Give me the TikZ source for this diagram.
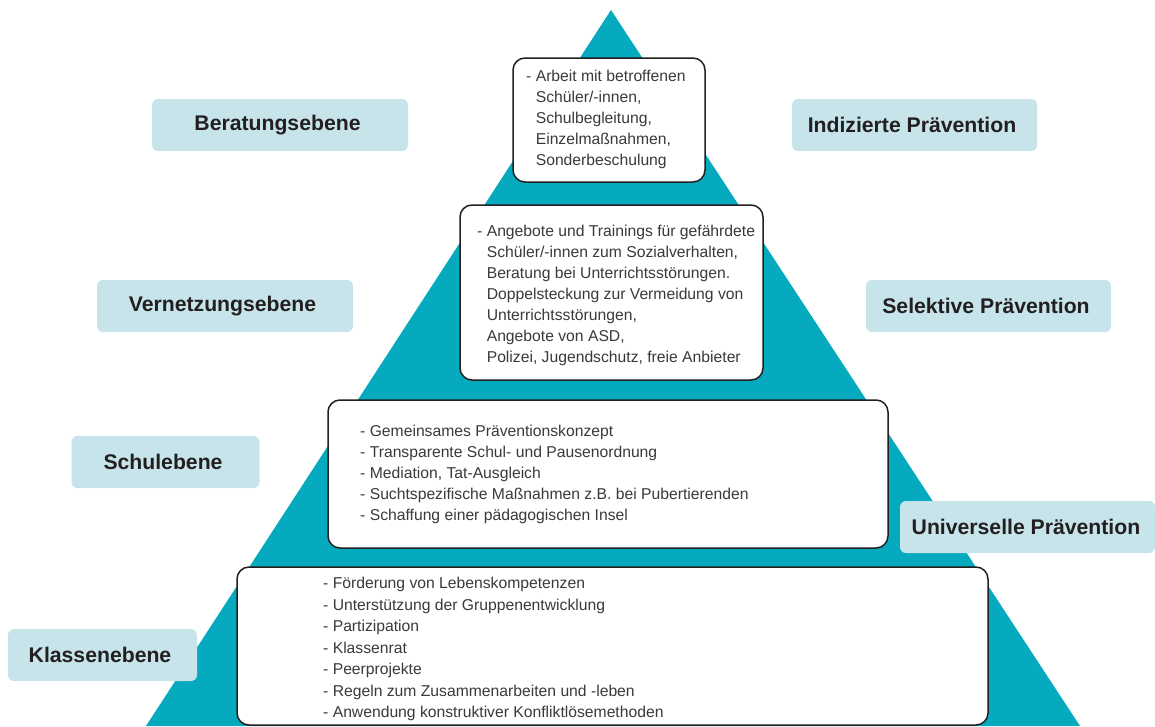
\documentclass[tikz,border=0pt]{standalone}
\usepackage{fontspec}
\setmainfont{Liberation Sans}
\definecolor{pyr}{HTML}{05AABE}
\definecolor{lab}{HTML}{C7E4EB}
\definecolor{ink}{HTML}{231F20}
\definecolor{txt}{HTML}{3A3A3A}
\tikzset{
  label box/.style={fill=lab, rounded corners=6pt, inner sep=0pt, font=\fontsize{21.2}{24}\selectfont\bfseries, text=ink},
  white box/.style={draw=ink, line width=1.5pt, fill=white, rounded corners=12pt, inner sep=0pt},
  box text/.style={anchor=west, inner sep=0pt, align=left, text=txt, font=\fontsize{15.7}{21}\selectfont},
}
\newcommand{\ind}{\phantom{- }}
\begin{document}
\begin{tikzpicture}[x=1pt,y=-1pt]
\useasboundingbox (0,0) rectangle (1155,726);
\fill[pyr] (146,726) -- (611,10) -- (1080,726) -- cycle;

% white boxes
\node[white box, minimum width=192pt, minimum height=124pt] (b1) at (609,120) {};
\node[white box, minimum width=303pt, minimum height=175pt] (b2) at (611.5,292.5) {};
\node[white box, minimum width=560pt, minimum height=148pt] (b3) at (608,474) {};
\node[white box, minimum width=751pt, minimum height=158pt] (b4) at (612.5,646) {};

% box texts
\node[box text] (t1) at (526,119.5) {- Arbeit mit betroffenen\\ \ind Schüler/-innen,\\ \ind Schulbegleitung,\\ \ind Einzelmaßnahmen,\\ \ind Sonderbeschulung};
\node[box text] (t2) at (477,295) {- Angebote und Trainings für gefährdete\\ \ind Schüler/-innen zum Sozialverhalten,\\ \ind Beratung bei Unterrichtsstörungen.\\ \ind Doppelsteckung zur Vermeidung von\\ \ind Unterrichtsstörungen,\\ \ind Angebote von ASD,\\ \ind Polizei, Jugendschutz, freie Anbieter};
\node[box text] (t3) at (360,474) {- Gemeinsames Präventionskonzept\\ - Transparente Schul- und Pausenordnung\\ - Mediation, Tat-Ausgleich\\ - Suchtspezifische Maßnahmen z.B. bei Pubertierenden\\ - Schaffung einer pädagogischen Insel};
\node[box text, font=\fontsize{15.7}{21.5}\selectfont] (t4) at (323,649) {- Förderung von Lebenskompetenzen\\ - Unterstützung der Gruppenentwicklung\\ - Partizipation\\ - Klassenrat\\ - Peerprojekte\\ - Regeln zum Zusammenarbeiten und -leben\\ - Anwendung konstruktiver Konfliktlösemethoden};

% labels
\node[label box, minimum width=256pt, minimum height=52pt] (l1) at (280,125) {\hspace*{-5pt}Beratungsebene\raisebox{0pt}{}};
\node[label box, minimum width=245pt, minimum height=52pt] (r1) at (914.5,125) {\hspace*{-5pt}Indizierte Prävention};
\node[label box, minimum width=256pt, minimum height=52pt] (l2) at (225,306) {\hspace*{-5pt}Vernetzungsebene};
\node[label box, minimum width=245pt, minimum height=52pt] (r2) at (988.5,306) {\hspace*{-5pt}Selektive Prävention};
\node[label box, minimum width=188pt, minimum height=52pt] (l3) at (165.5,462) {\hspace*{-5pt}Schulebene};
\node[label box, minimum width=255pt, minimum height=52pt] (r3) at (1027.5,527) {\hspace*{-3pt}Universelle Prävention};
\node[label box, minimum width=189pt, minimum height=52pt] (l4) at (102.5,655) {\hspace*{-5pt}Klassenebene};
\end{tikzpicture}
\end{document}
